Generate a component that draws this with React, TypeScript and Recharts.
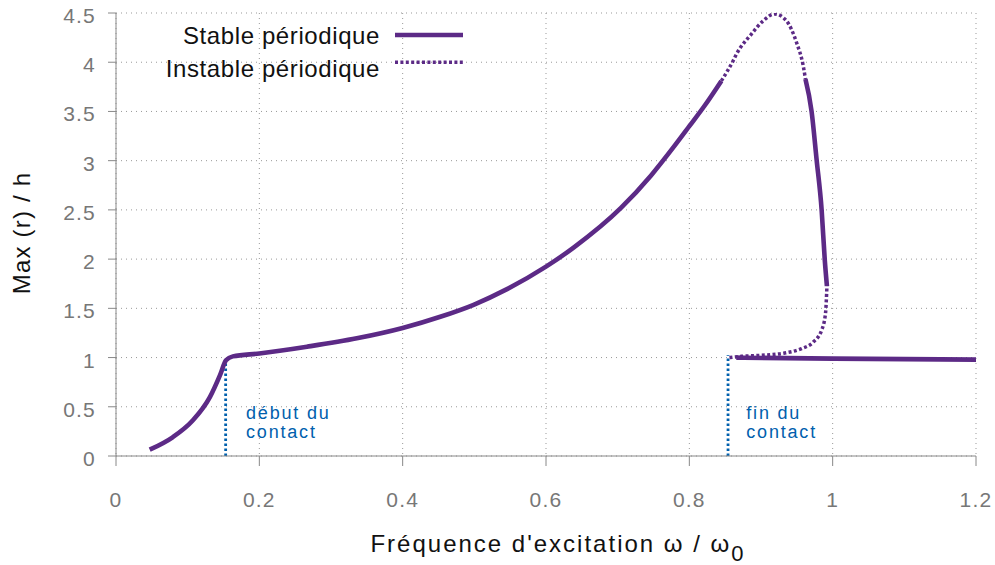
import React from 'react';
import { ComposedChart, Line, XAxis, YAxis, CartesianGrid, Legend, ReferenceDot, Label } from 'recharts';

const xTicks = [0, 0.2, 0.4, 0.6, 0.8, 1, 1.2];
const yTicks = [0, 0.5, 1, 1.5, 2, 2.5, 3, 3.5, 4, 4.5];

// Stable branch: contact start up to the resonance jump
const stableMain = [
  { x: 0.047, y: 0.064 }, { x: 0.079, y: 0.19 }, { x: 0.107, y: 0.36 }, { x: 0.131, y: 0.598 },
  { x: 0.145, y: 0.819 }, { x: 0.1535, y: 0.972 }, { x: 0.163, y: 1.012 }, { x: 0.2, y: 1.041 },
  { x: 0.2665, y: 1.11 }, { x: 0.336, y: 1.195 }, { x: 0.4, y: 1.3 }, { x: 0.4525, y: 1.414 },
  { x: 0.499, y: 1.536 }, { x: 0.5456, y: 1.695 }, { x: 0.6, y: 1.923 }, { x: 0.6385, y: 2.117 },
  { x: 0.7046, y: 2.52 }, { x: 0.7466, y: 2.85 }, { x: 0.779, y: 3.147 }, { x: 0.8, y: 3.35 },
  { x: 0.821, y: 3.555 }, { x: 0.8447, y: 3.81 },
];
// Unstable branch around the peak
const unstableTop = [
  { x: 0.8447, y: 3.81 }, { x: 0.861, y: 4.013 }, { x: 0.8656, y: 4.08 }, { x: 0.8866, y: 4.286 },
  { x: 0.903, y: 4.42 }, { x: 0.919, y: 4.49 }, { x: 0.9356, y: 4.42 }, { x: 0.9496, y: 4.2 },
  { x: 0.959, y: 3.96 }, { x: 0.962, y: 3.83 },
];
// Stable descending branch
const stableRight = [
  { x: 0.962, y: 3.83 }, { x: 0.9706, y: 3.5 }, { x: 0.9776, y: 3.01 }, { x: 0.9846, y: 2.5 },
  { x: 0.989, y: 1.99 }, { x: 0.992, y: 1.726 },
];
// Unstable lower branch (fold back to contact end)
const unstableLow = [
  { x: 0.856, y: 0.999 }, { x: 0.8727, y: 1.0125 }, { x: 0.9006, y: 1.023 }, { x: 0.933, y: 1.046 },
  { x: 0.9566, y: 1.091 }, { x: 0.973, y: 1.158 }, { x: 0.9846, y: 1.278 }, { x: 0.99, y: 1.448 },
  { x: 0.992, y: 1.726 },
];
// Stable branch without contact
const stableFlat = [
  { x: 0.8655, y: 0.999 }, { x: 1.0014, y: 0.989 }, { x: 1.2, y: 0.979 },
];
// Contact markers
const contactStart = [{ x: 0.153, y: 0 }, { x: 0.153, y: 0.972 }];
const contactEnd = [{ x: 0.854, y: 0 }, { x: 0.854, y: 1.023 }];
const annotations = [
  { x: 0.1815, y: 0.38, lines: ['début du', 'contact'] },
  { x: 0.8795, y: 0.38, lines: ['fin du', 'contact'] },
];
const legendItems = [
  { label: 'Stable périodique', dashed: false },
  { label: 'Instable périodique', dashed: true },
];

const PURPLE = '#5c2a86';
const BLUE = '#0060ad';
const FONT = '"Liberation Sans", Arial, sans-serif';

const XTick = (props: any) => {
  const { x, y, payload } = props;
  return (
    <text x={x} y={y + 39} textAnchor="middle" fill="#777" fontSize={21} fontFamily={FONT} letterSpacing={1.2}>
      {payload.value}
    </text>
  );
};
const YTick = (props: any) => {
  const { x, y, payload } = props;
  return (
    <text x={x - 10} y={y + 10} textAnchor="end" fill="#777" fontSize={21} fontFamily={FONT} letterSpacing={1.2}>
      {payload.value}
    </text>
  );
};

const renderLegend = () => (
  <svg width={330} height={80} style={{ display: 'block' }}>
    {legendItems.map((it, i) => (
      <g key={it.label}>
        <text x={230} y={34.3 + i * 32.4} textAnchor="end" fontSize={24} fontFamily={FONT} fill="#111" letterSpacing={0.6}>
          {it.label}
        </text>
        <line x1={245} x2={313} y1={25 + i * 27.3} y2={25 + i * 27.3} stroke={PURPLE}
          strokeWidth={it.dashed ? 3.5 : 4.5} strokeDasharray={it.dashed ? '3 2.4' : undefined} />
      </g>
    ))}
  </svg>
);

const annotationLabel = (lines: string[]) => (props: any) => {
  const vb = props.viewBox || {};
  const x = (vb.x || 0) + (vb.width || 0) / 2;
  const y = (vb.y || 0) + (vb.height || 0) / 2;
  return (
    <text x={x} y={y} fill={BLUE} fontSize={18} fontFamily={FONT} letterSpacing={1.8}>
      {lines.map((l, i) => (
        <tspan key={i} x={x} dy={i === 0 ? 0 : 19.5}>{l}</tspan>
      ))}
    </text>
  );
};

export default function App() {
  return (
    <div style={{ position: 'absolute', left: 0, top: 0, background: '#fff' }}>
      <ComposedChart width={995} height={565} margin={{ top: 13, right: 19, left: 0, bottom: 0 }}>
        <CartesianGrid stroke="#999" strokeDasharray="1 4" />
        <XAxis dataKey="x" type="number" domain={[0, 1.2]} ticks={xTicks} tick={<XTick />}
          height={109} tickSize={10} stroke="#888" allowDataOverflow>
          <Label content={() => (
            <text x={558} y={552} textAnchor="middle" fontSize={24} fontFamily={FONT} fill="#111" letterSpacing={2}>
              Fréquence d'excitation ω / ω<tspan dy={9} fontSize={22}>0</tspan>
            </text>
          )} />
        </XAxis>
        <YAxis type="number" domain={[0, 4.5]} ticks={yTicks} tick={<YTick />} width={116}
          tickSize={8} stroke="#888" allowDataOverflow>
          <Label content={() => (
            <text x={0} y={0} transform="translate(30, 233) rotate(-90)" textAnchor="middle" fontSize={24}
              fontFamily={FONT} fill="#111" letterSpacing={1.2}>
              Max (r) / h
            </text>
          )} />
        </YAxis>
        <Line data={contactStart} dataKey="y" type="linear" stroke={BLUE} strokeWidth={2.8}
          strokeDasharray="2.5 2.5" dot={false} isAnimationActive={false} legendType="none" />
        <Line data={contactEnd} dataKey="y" type="linear" stroke={BLUE} strokeWidth={2.8}
          strokeDasharray="2.5 2.5" dot={false} isAnimationActive={false} legendType="none" />
        <Line data={stableMain} dataKey="y" type="monotone" stroke={PURPLE} strokeWidth={4.6}
          dot={false} isAnimationActive={false} name="Stable périodique" />
        <Line data={unstableTop} dataKey="y" type="monotone" stroke={PURPLE} strokeWidth={3.5}
          strokeDasharray="3 2.4" dot={false} isAnimationActive={false} name="Instable périodique" />
        <Line data={stableRight} dataKey="y" type="monotone" stroke={PURPLE} strokeWidth={4.6}
          dot={false} isAnimationActive={false} legendType="none" />
        <Line data={unstableLow} dataKey="y" type="monotone" stroke={PURPLE} strokeWidth={3.5}
          strokeDasharray="3 2.4" dot={false} isAnimationActive={false} legendType="none" />
        <Line data={stableFlat} dataKey="y" type="monotone" stroke={PURPLE} strokeWidth={4.6}
          dot={false} isAnimationActive={false} legendType="none" />
        {annotations.map((a) => (
          <ReferenceDot key={a.lines[0]} x={a.x} y={a.y} r={0.01} fill="none" stroke="none"
            label={annotationLabel(a.lines)} />
        ))}
        <Legend layout="vertical" align="center" verticalAlign="middle" content={renderLegend}
          wrapperStyle={{ left: 150, top: 10, width: 330, height: 80 }} />
      </ComposedChart>
    </div>
  );
}
